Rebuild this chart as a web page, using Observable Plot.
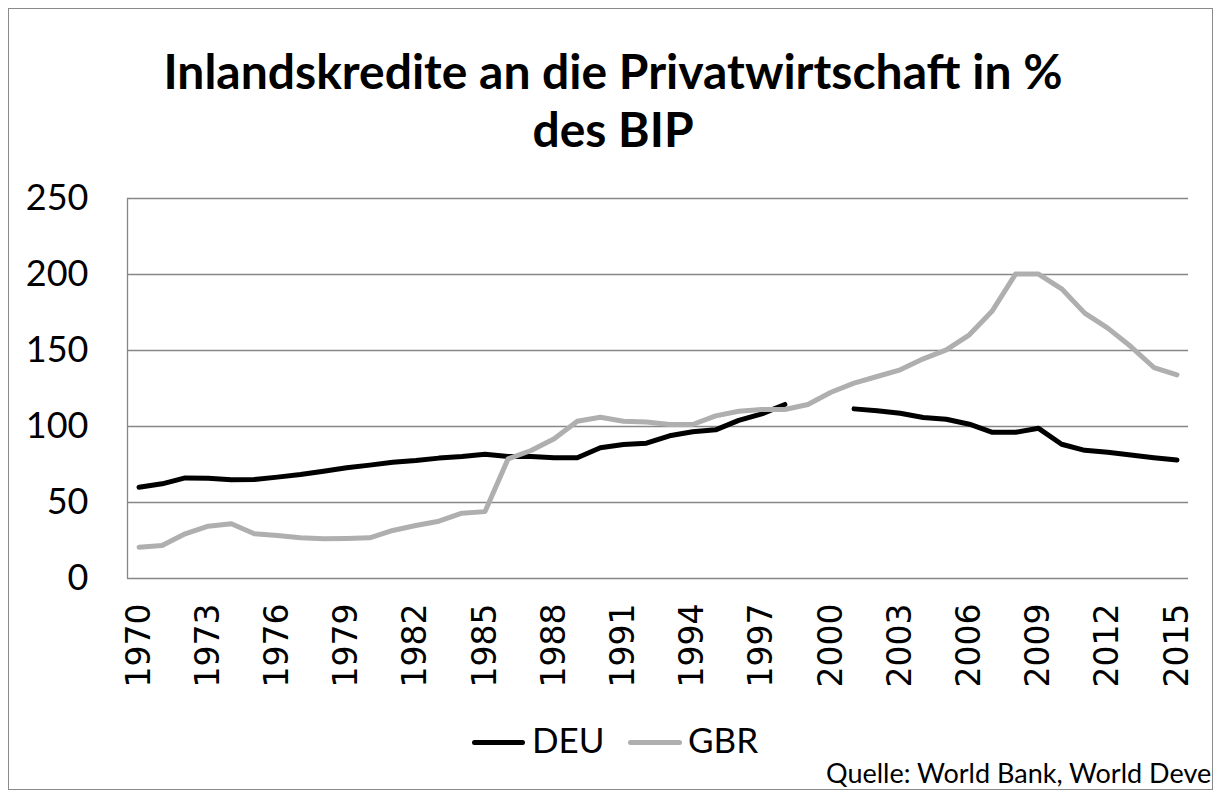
<!DOCTYPE html>
<html>
<head>
<meta charset="utf-8">
<script src="https://cdn.jsdelivr.net/npm/d3@7"></script>
<script src="https://cdn.jsdelivr.net/npm/@observablehq/plot@0.6"></script>
<style>
  html, body { margin: 0; padding: 0; background: #fff; }
  #wrap { position: relative; width: 1220px; height: 791px; overflow: hidden; background: #fff; }
  #frame { position: absolute; left: 8px; top: 8px; width: 1205px; height: 782px; border: 1px solid #8a8a8a; box-sizing: border-box; overflow: hidden; }
  .t { position: absolute; white-space: nowrap; line-height: 1; font-family: Lato, "Open Sans", sans-serif; color: #000; }
  #chart { position: absolute; left: 0; top: 180px; }
  .sw { position: absolute; height: 5px; border-radius: 3px; }
</style>
</head>
<body>
<div id="wrap">
  <div id="frame"></div>
  <div class="t" id="title1" style="left:0;width:1226px;text-align:center;top:47px;font-size:48px;font-weight:700;"></div>
  <div class="t" id="title2" style="left:0;width:1226px;text-align:center;top:105px;font-size:48px;font-weight:700;"></div>
  <div id="chart"></div>
  <div class="sw" style="left:472px;width:53px;top:740px;background:#000;"></div>
  <div class="t" id="lg1" style="left:532px;top:722px;font-size:35px;"></div>
  <div class="sw" style="left:628px;width:54px;top:740px;background:#afafaf;"></div>
  <div class="t" id="lg2" style="left:688px;top:722px;font-size:35px;"></div>
  <div class="t" id="caption" style="left:826px;top:759px;font-size:27px;"></div>
</div>
<script>
const titleLines = ["Inlandskredite an die Privatwirtschaft in %", "des BIP"];
const seriesNames = ["DEU", "GBR"];
const captionText = "Quelle: World Bank, World Deve";
const years = d3.range(1970, 2016);
const deuValues = [
  60, 62.3, 66.2, 66, 65, 65.2, 66.7, 68.4, 70.6, 72.8,
  74.6, 76.5, 77.6, 79.2, 80.3, 81.8, 80.3, 80.3, 79.4, 79.4,
  86, 88.2, 89, 93.9, 96.5, 97.8, 104, 108.3, 114.5, null,
  null, 111.6, 110.3, 108.7, 105.9, 104.8, 101.5, 96.2, 96.2, 98.8,
  88.3, 84.3, 83, 81.3, 79.5, 78
];
const gbrValues = [
  20.6, 21.7, 29.4, 34.4, 36, 29.4, 28.3, 26.8, 26.1, 26.3,
  26.8, 31.6, 34.9, 37.7, 43, 44, 78.7, 84.2, 91.9, 103.5,
  106.1, 103.5, 102.9, 101.3, 101.3, 107, 110, 111.2, 111.2, 114.5,
  122.5, 128.5, 132.9, 137.3, 144.5, 150.4, 160.3, 176.2, 200.3, 200.3,
  190.6, 174.6, 164.7, 152.6, 138.8, 134
];
const yTicks = [0, 50, 100, 150, 200, 250];
const xTicks = years.filter((d, i) => i % 3 === 0);
const seriesColors = ["#000000", "#afafaf"];

document.getElementById("title1").textContent = titleLines[0];
document.getElementById("title2").textContent = titleLines[1];
document.getElementById("lg1").textContent = seriesNames[0];
document.getElementById("lg2").textContent = seriesNames[1];
document.getElementById("caption").textContent = captionText;

const deu = years.map((y, i) => ({year: y, value: deuValues[i]}));
const gbr = years.map((y, i) => ({year: y, value: gbrValues[i]}));

const chart = Plot.plot({
  width: 1220,
  height: 530,
  marginTop: 18,
  marginBottom: 132,
  marginLeft: 127,
  marginRight: 32,
  style: {background: "transparent", overflow: "visible"},
  x: {type: "linear", domain: [1969.5, 2015.5]},
  y: {domain: [0, 250]},
  marks: [
    Plot.gridY(yTicks, {stroke: "#878787", strokeOpacity: 1, strokeWidth: 1.3}),
    Plot.ruleX([1969.5], {y1: 0, y2: 250, stroke: "#878787", strokeWidth: 1.3}),
    Plot.axisY(yTicks, {tickSize: 0, tickPadding: 39, fontSize: 36, fontFamily: "Lato, 'Open Sans', sans-serif", fill: "#000", label: null}),
    Plot.axisX(xTicks, {tickSize: 0, tickPadding: 25, tickRotate: -90, fontSize: 33, fontFamily: "'DejaVu Sans', sans-serif", fill: "#000", tickFormat: d => String(d), label: null}),
    Plot.line(deu, {x: "year", y: "value", stroke: seriesColors[0], strokeWidth: 5, strokeLinejoin: "round", strokeLinecap: "round"}),
    Plot.line(gbr, {x: "year", y: "value", stroke: seriesColors[1], strokeWidth: 5, strokeLinejoin: "round", strokeLinecap: "round"})
  ]
});
document.getElementById("chart").appendChild(chart);
</script>
</body>
</html>
